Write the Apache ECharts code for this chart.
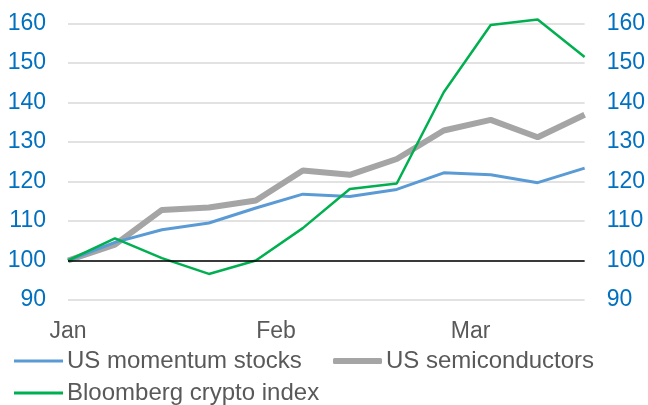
<!DOCTYPE html>
<html>
<head>
<meta charset="utf-8">
<script src="https://cdn.jsdelivr.net/npm/echarts@6/dist/echarts.min.js"></script>
<style>html,body{margin:0;padding:0;background:#fff}#c{width:648px;height:405px}</style>
</head>
<body>
<div id="c"></div>
<script>
// Weekly observation dates
const dates = ['2024-01-01','2024-01-08','2024-01-15','2024-01-22','2024-01-29','2024-02-05','2024-02-12','2024-02-19','2024-02-26','2024-03-04','2024-03-11','2024-03-18'];
const momentum = [100, 104.6, 107.8, 109.5, 113.3, 116.8, 116.2, 118.0, 122.2, 121.7, 119.7, 123.4];
const semis    = [100, 104.0, 112.8, 113.4, 115.2, 122.8, 121.7, 125.7, 132.9, 135.6, 131.2, 136.9];
const crypto   = [100, 105.6, 100.6, 96.6, 100.0, 108.2, 118.1, 119.5, 142.6, 159.6, 161.0, 151.5];
const monthTicks = ['2024-01-01','2024-02-01','2024-03-01'];
const monthLabels = ['Jan','Feb','Mar'];
const yTicks = [90,100,110,120,130,140,150,160];
const names = ['US momentum stocks','US semiconductors','Bloomberg crypto index'];

const base = Date.parse(dates[0]);
const day = d => Math.round((Date.parse(d) - base) / 86400000);
const xs = dates.map(day);
const tickDays = monthTicks.map(day);
const pts = arr => arr.map((v,i)=>[xs[i], v]);

const chart = echarts.init(document.getElementById('c'));
const font = 'Liberation Sans, Arial, sans-serif';
const yAxisCommon = {
  type:'value', min: yTicks[0], max: yTicks[yTicks.length-1], interval: 10,
  axisLine:{show:false}, axisTick:{show:false},
  axisLabel:{color:'#0070C0', fontSize:23, fontFamily:font, margin:22}
};
const legendText = {color:'#595959', fontSize:24, fontFamily:font, padding:[0,0,0,-1]};
function leg(name, left, top, h, icon){
  return {data:[name], left:left, top:top, padding:0, itemWidth:49, itemHeight:h, icon:icon, textStyle:legendText};
}
chart.setOption({
  animation:false,
  grid:{left:68, right:63, top:23.5, bottom:105, containLabel:false},
  xAxis:{
    type:'value', min:xs[0], max:xs[xs.length-1],
    axisLine:{show:false}, axisTick:{show:false}, splitLine:{show:false},
    axisLabel:{
      customValues: tickDays, color:'#595959', fontSize:23, fontFamily:font, margin:20,
      formatter: v => monthLabels[tickDays.indexOf(v)] || ''
    }
  },
  yAxis:[
    Object.assign({}, yAxisCommon, {position:'left', splitLine:{show:true, lineStyle:{color:'#D9D9D9', width:1.5}}}),
    Object.assign({}, yAxisCommon, {position:'right', splitLine:{show:false}})
  ],
  legend:[
    leg(names[0], 14, 349, 3, 'rect'),
    leg(names[1], 333, 349, 6, 'roundRect'),
    leg(names[2], 14, 381, 3, 'rect')
  ],
  series:[
    {name:names[0], type:'line', data:pts(momentum), symbol:'none', z:3, clip:false,
     lineStyle:{color:'#5B9BD5', width:3}, itemStyle:{color:'#5B9BD5'},
     markLine:{silent:true, symbol:'none', label:{show:false}, lineStyle:{color:'#000', width:1.5, type:'solid'}, data:[{yAxis:100}]}},
    {name:names[1], type:'line', data:pts(semis), symbol:'none', z:2, clip:false,
     lineStyle:{color:'#A5A5A5', width:6}, itemStyle:{color:'#A5A5A5'}},
    {name:names[2], type:'line', data:pts(crypto), symbol:'none', z:4, clip:false,
     lineStyle:{color:'#00B050', width:2.5}, itemStyle:{color:'#00B050'}}
  ]
});
</script>
</body>
</html>
